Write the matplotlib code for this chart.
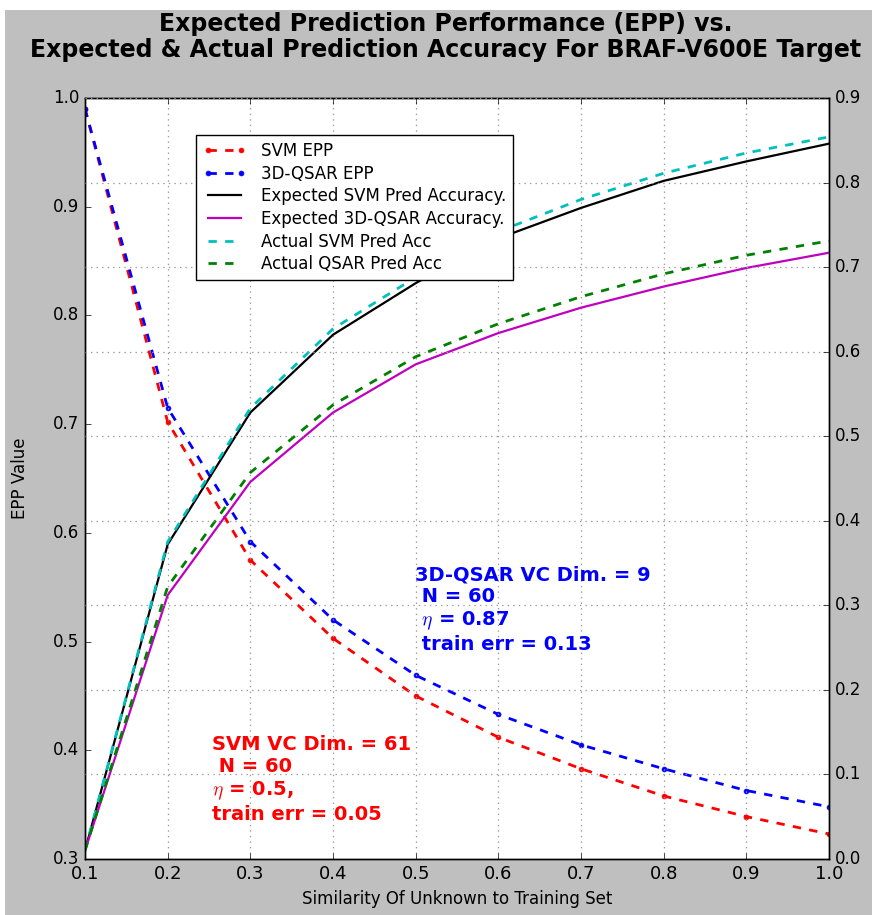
import matplotlib
matplotlib.use("Agg")
import matplotlib.pyplot as plt
from matplotlib.patches import Rectangle

plt.style.use('classic')

# ---- data ----
similarity = [0.1, 0.2, 0.3, 0.4, 0.5, 0.6, 0.7, 0.8, 0.9, 1.0]
svm_epp = [0.99, 0.702, 0.575, 0.503, 0.450, 0.412, 0.383, 0.358, 0.339, 0.323]
qsar_epp = [0.99, 0.715, 0.592, 0.520, 0.469, 0.433, 0.405, 0.383, 0.363, 0.348]
exp_svm_acc = [0.01, 0.372, 0.528, 0.620, 0.681, 0.734, 0.770, 0.802, 0.825, 0.846]
exp_qsar_acc = [0.01, 0.312, 0.446, 0.528, 0.585, 0.622, 0.652, 0.677, 0.699, 0.717]
act_svm_acc = [0.01, 0.375, 0.533, 0.627, 0.688, 0.742, 0.780, 0.811, 0.835, 0.854]
act_qsar_acc = [0.01, 0.322, 0.457, 0.537, 0.594, 0.633, 0.665, 0.692, 0.714, 0.731]

x_ticks = [0.1, 0.2, 0.3, 0.4, 0.5, 0.6, 0.7, 0.8, 0.9, 1.0]
left_ticks = [0.3, 0.4, 0.5, 0.6, 0.7, 0.8, 0.9, 1.0]
right_ticks = [0.0, 0.1, 0.2, 0.3, 0.4, 0.5, 0.6, 0.7, 0.8, 0.9]

title_text = ("Expected Prediction Performance (EPP) vs.\n"
              "Expected & Actual Prediction Accuracy For BRAF-V600E Target")
svm_note = "SVM VC Dim. = 61\n N = 60\n$\\eta$ = 0.5,\ntrain err = 0.05"
qsar_note = "3D-QSAR VC Dim. = 9\n N = 60\n $\\eta$ = 0.87\n train err = 0.13"

W, H = 872, 915
fig = plt.figure(figsize=(W / 100, H / 100), dpi=100)
fig.patch.set_facecolor('white')
fig.patches.append(Rectangle((5 / W, 0), 1 - 5 / W, 1 - 10 / H,
                             transform=fig.transFigure, facecolor='0.75',
                             edgecolor='none', zorder=-10))

ax = fig.add_axes([85 / W, 1 - 859 / H, (829 - 85) / W, (859 - 98) / H])
ax2 = ax.twinx()

l1, = ax.plot(similarity, svm_epp, color='r', ls='--', lw=2, marker='.',
              markersize=7, markeredgecolor='r', label='SVM EPP')
l2, = ax.plot(similarity, qsar_epp, color='b', ls='--', lw=2, marker='.',
              markersize=7, markeredgecolor='b', label='3D-QSAR EPP')
l3, = ax2.plot(similarity, exp_svm_acc, color='k', ls='-', lw=1.6,
               label='Expected SVM Pred Accuracy.')
l4, = ax2.plot(similarity, exp_qsar_acc, color='m', ls='-', lw=1.6,
               label='Expected 3D-QSAR Accuracy.')
l5, = ax2.plot(similarity, act_svm_acc, color='c', ls='--', lw=2,
               label='Actual SVM Pred Acc')
l6, = ax2.plot(similarity, act_qsar_acc, color='g', ls='--', lw=2,
               label='Actual QSAR Pred Acc')

ax.set_xlim(0.1, 1.0)
ax.set_ylim(0.3, 1.0)
ax2.set_ylim(0.0, 0.9)
ax.set_xticks(x_ticks)
ax.set_yticks(left_ticks)
ax2.set_yticks(right_ticks)
ax.set_xticklabels([f"{v:.1f}" for v in x_ticks], fontsize=13)
ax.set_yticklabels([f"{v:.1f}" for v in left_ticks], fontsize=12)
ax2.set_yticklabels([f"{v:.1f}" for v in right_ticks], fontsize=12)
ax2.yaxis.grid(True, color='0.6', linestyle=':', linewidth=0.9)
ax.xaxis.grid(True, color='0.6', linestyle=':', linewidth=0.9)
ax.yaxis.grid(False)

ax.set_xlabel("Similarity Of Unknown to Training Set", fontsize=12)
ax.set_ylabel("EPP Value", fontsize=12)
ax.yaxis.set_label_coords(-0.075, 0.5)

leg = ax2.legend(handles=[l1, l2, l3, l4, l5, l6], loc='upper left',
                 bbox_to_anchor=(0.149, 0.951), borderaxespad=0,
                 fontsize=12, numpoints=2,
                 handlelength=2.6, handletextpad=0.9, labelspacing=0.28,
                 borderpad=0.4, frameon=True, fancybox=False)
leg.get_frame().set_edgecolor('k')

ax.text(0.254, 0.414, svm_note, color='r', fontsize=14, fontweight='bold',
        ha='left', va='top', zorder=5)
ax.text(0.499, 0.570, qsar_note, color='b', fontsize=14, fontweight='bold',
        ha='left', va='top', zorder=5)

fig.text(446 / W, 1 - 12 / H, title_text, ha='center', va='top',
         fontsize=17, fontweight='bold', linespacing=1.12)

fig.savefig("out.png", dpi=100, facecolor=fig.get_facecolor())
